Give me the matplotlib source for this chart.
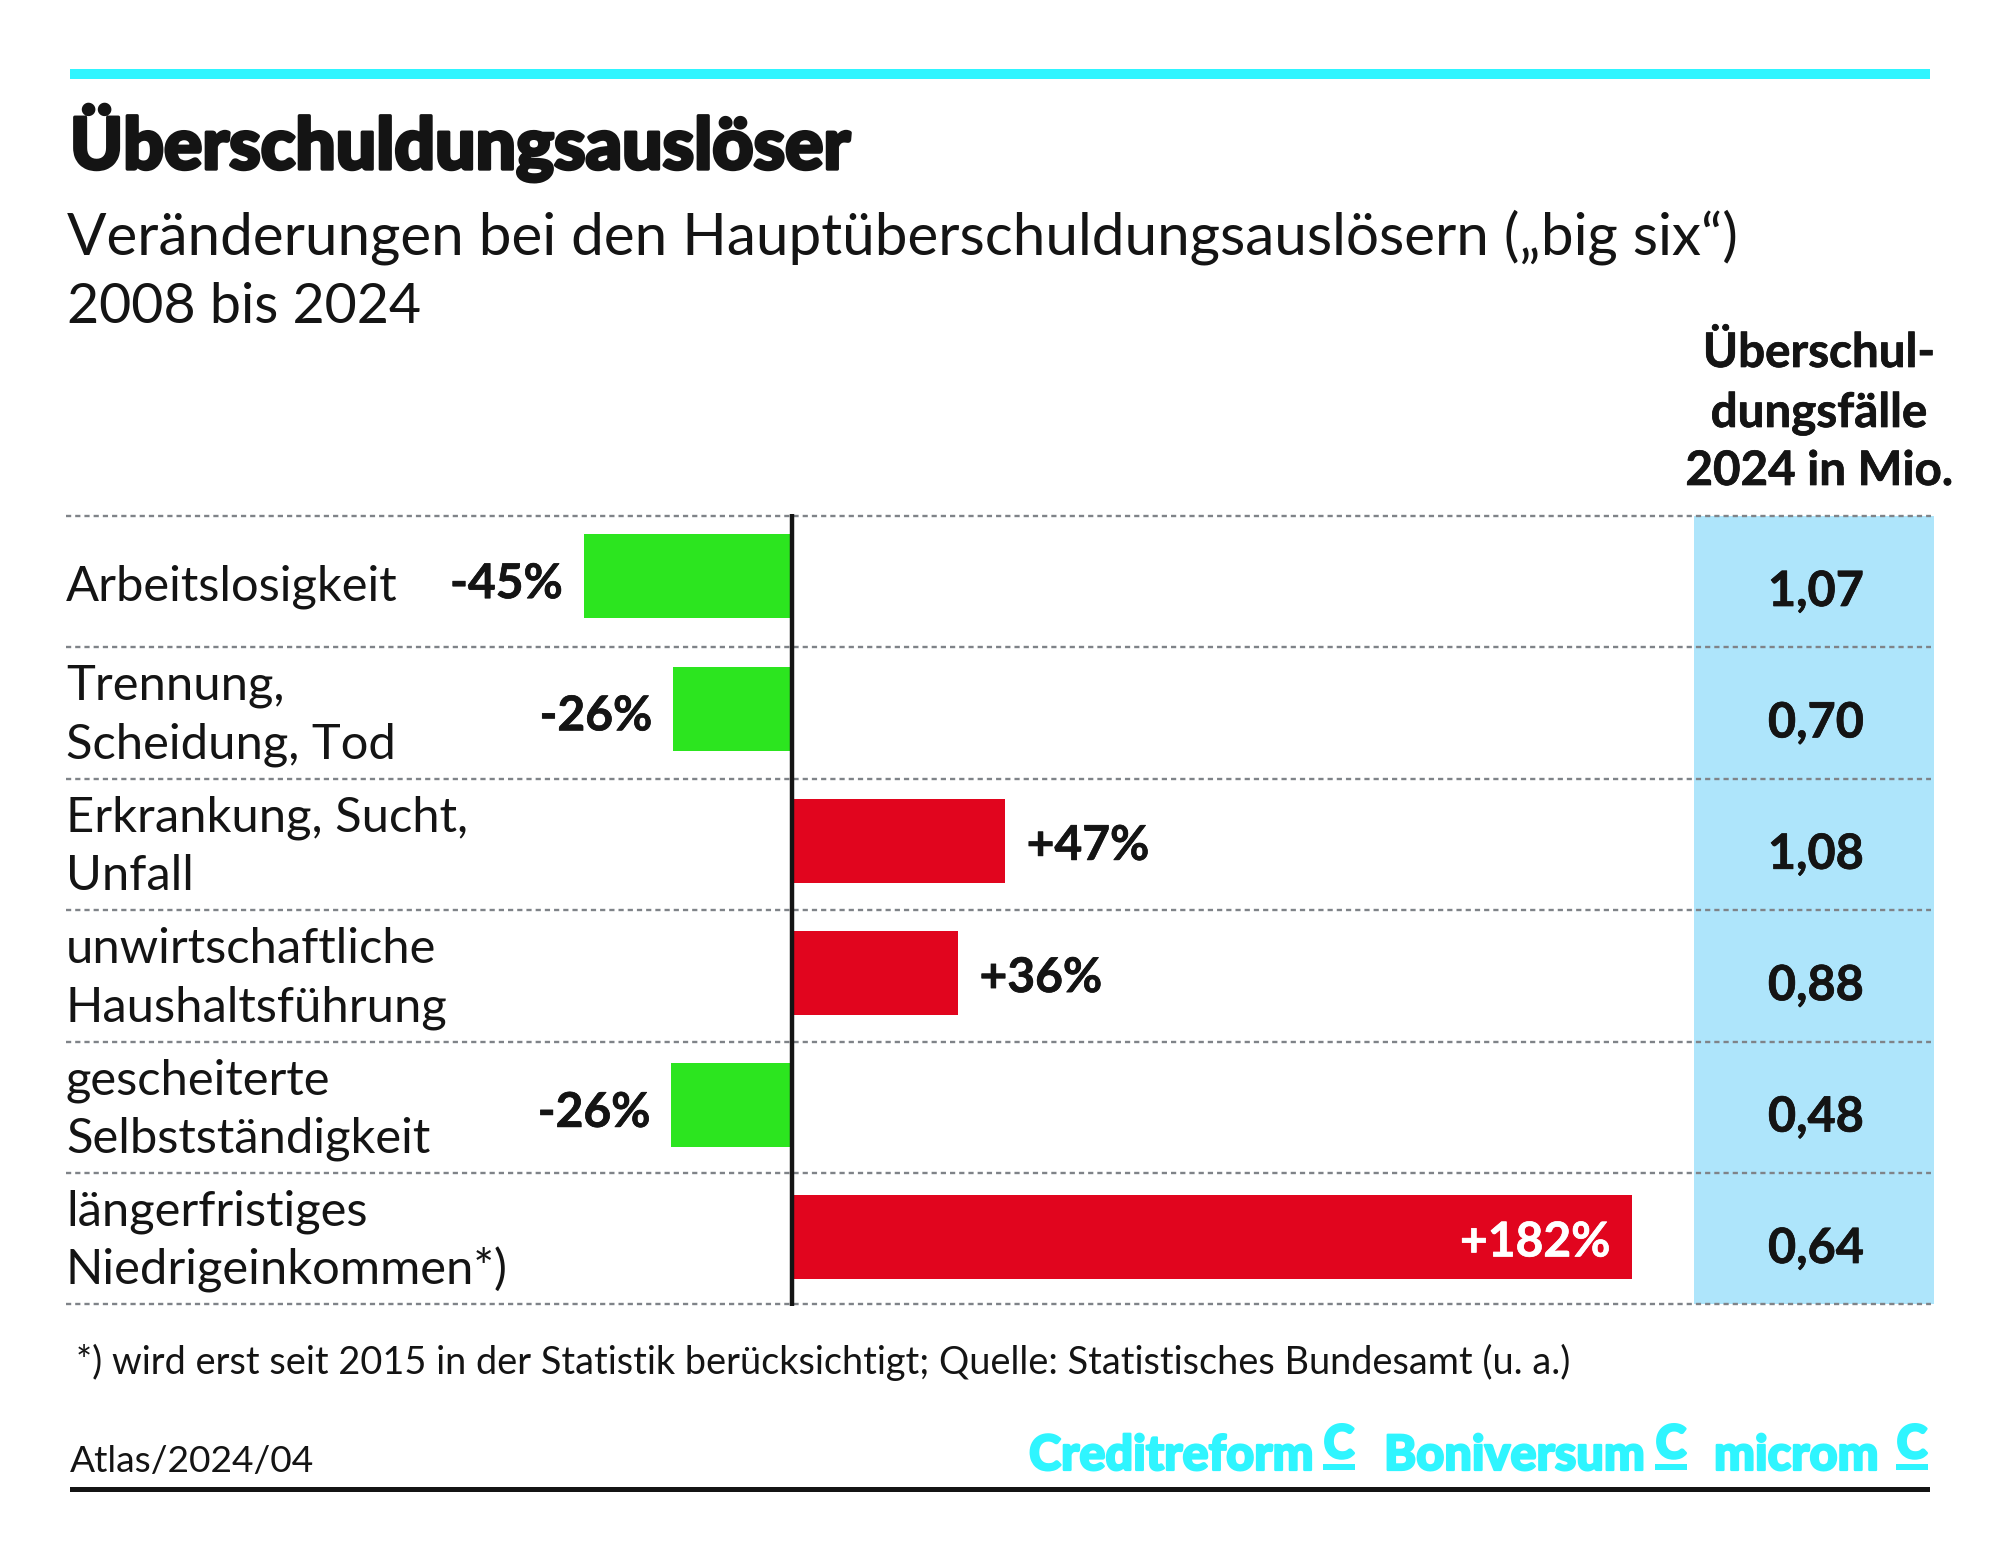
import numpy as np
import matplotlib
matplotlib.use("Agg")
import matplotlib.pyplot as plt
import matplotlib.patheffects as pe

W, H = 2000, 1558
FONT = "Lato"
INK = "#141414"
CYAN = "#2ff5ff"
GREEN = "#2ce51f"
RED = "#e1051e"
BLUE = "#aee5fb"
GRID = "#7f8388"

categories = [
    ["Arbeitslosigkeit"],
    ["Trennung,", "Scheidung, Tod"],
    ["Erkrankung, Sucht,", "Unfall"],
    ["unwirtschaftliche", "Haushaltsführung"],
    ["gescheiterte", "Selbstständigkeit"],
    ["längerfristiges", "Niedrigeinkommen*)"],
]
changes = [-45, -25.6, 46.2, 36, -26, 182]
change_labels = ["-45%", "-26%", "+47%", "+36%", "-26%", "+182%"]
cases = ["1,07", "0,70", "1,08", "0,88", "0,48", "0,64"]
header = ["Überschul-", "dungsfälle", "2024 in Mio."]
brands = ["Creditreform", "Boniversum", "microm"]

PX_PER_PCT = 4.62
ZERO_X = 791.5
ROW_TOP = 516.0
ROW_H = 131.4

fig = plt.figure(figsize=(W / 100, H / 100), dpi=100, facecolor="white")
ax = fig.add_axes([0, 0, 1, 1])
ax.set_xlim(-ZERO_X / PX_PER_PCT, (W - ZERO_X) / PX_PER_PCT)
ax.set_ylim((H - ROW_TOP) / ROW_H, -ROW_TOP / ROW_H)
ax.axis("off")

def X(px):
    return (px - ZERO_X) / PX_PER_PCT

def Y(px):
    return (px - ROW_TOP) / ROW_H

def T(px, py, s, size, weight="normal", color=INK, ha="left", bold_px=0.0, **kw):
    t = ax.text(X(px), Y(py), s, fontsize=size, fontweight=weight, color=color, ha=ha,
                va="baseline", family=FONT, **kw)
    if bold_px:
        t.set_path_effects([pe.withStroke(linewidth=bold_px, foreground=color)])
    return t

n = len(changes)
# column shading and separators
ax.fill_between([X(1694), X(1934)], 0, n, color=BLUE, lw=0, zorder=1)
for i in range(n + 1):
    ax.plot([X(66), X(1931)], [i, i], color=GRID, lw=1.7, dashes=(2.2, 1.7), zorder=2)

# bars
centres = np.arange(n) * 1.006 + 0.46
colors = [GREEN if v < 0 else RED for v in changes]
ax.barh(centres, changes, height=0.64, color=colors, lw=0, zorder=3)
ax.plot([0, 0], [Y(514), Y(1306)], color=INK, lw=3.2, solid_capstyle="butt", zorder=4)

for i, (v, lab) in enumerate(zip(changes, change_labels)):
    base = centres[i] + (0.165 if v < 0 else 0.145)
    if v >= 100:
        x, ha, col = v - 4.7, "right", "white"
    elif v < 0:
        x, ha, col = v - 4.5, "right", INK
    else:
        x, ha, col = v + 4.7, "left", INK
    t = ax.text(x, base, lab, color=col, ha=ha, va="baseline", fontsize=34.5, fontweight="bold", family=FONT, zorder=5)
    t.set_path_effects([pe.withStroke(linewidth=0.5, foreground=col)])

# row labels
for i, lines in enumerate(categories):
    offs = [0.64] if len(lines) == 1 else [0.40, 0.845]
    for line, o in zip(lines, offs):
        ax.text(X(66), i + o, line, color=INK, ha="left", va="baseline", fontsize=35.2, family=FONT, zorder=5)

# right column values
for i, c in enumerate(cases):
    t = ax.text(X(1816), i + 0.685, c, color=INK, ha="center", va="baseline", fontsize=35, fontweight="bold", family=FONT, zorder=5)
    t.set_path_effects([pe.withStroke(linewidth=0.5, foreground=INK)])

for line, py in zip(header, [367, 427, 485]):
    T(1819, py, line, 34.2, weight="bold", ha="center", bold_px=0.5)

# frame rules
ax.fill_between([X(70), X(1930)], Y(69), Y(79), color=CYAN, lw=0)
ax.fill_between([X(70), X(1930)], Y(1487), Y(1492), color=INK, lw=0)

# titles
T(70, 169, "Überschuldungsauslöser", 51.4, weight="black", bold_px=2.4)
T(67, 254, "Veränderungen bei den Hauptüberschuldungsauslösern („big six“)", 42)
T(67, 323, "2008 bis 2024", 40)
T(76, 1374, "*) wird erst seit 2015 in der Statistik berücksichtigt; Quelle: Statistisches Bundesamt (u. a.)", 27.3)
T(70, 1472, "Atlas/2024/04", 26.7)

# brand marks
brand_x = [1029, 1384, 1714]
mark_x = [1339, 1671, 1912]
for b, bx, mx in zip(brands, brand_x, mark_x):
    T(bx, 1470, b, 35, weight="black", color=CYAN, bold_px=1.6)
    T(mx, 1458, "C", 33, weight="black", color=CYAN, ha="center", bold_px=2.0)
    ax.fill_between([X(mx - 16), X(mx + 16)], Y(1464), Y(1470), color=CYAN, lw=0)

fig.savefig("out.png", dpi=100, facecolor="white")
